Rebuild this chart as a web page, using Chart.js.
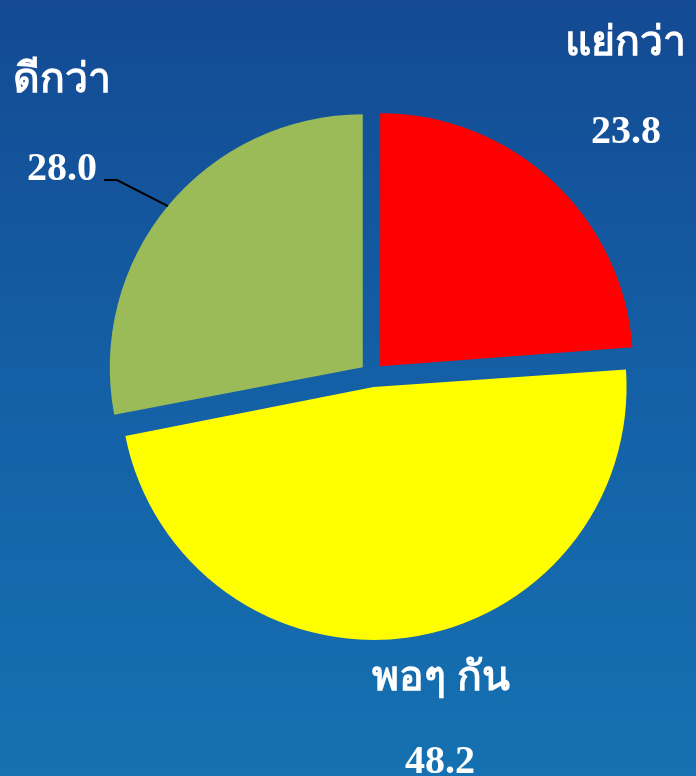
<!DOCTYPE html>
<html>
<head>
<meta charset="utf-8">
<script src="https://cdn.jsdelivr.net/npm/chart.js@4"></script>
<style>
  html, body { margin: 0; padding: 0; }
  body {
    width: 696px; height: 776px; overflow: hidden;
    background: linear-gradient(to bottom, #134a93 0%, #1460a6 50%, #1571b1 100%);
  }
  #wrap { position: relative; width: 696px; height: 776px; }
</style>
</head>
<body>
<div id="wrap"><canvas id="grafico"></canvas></div>
<script>
const categorias = ["แย่กว่า", "พอๆ กัน", "ดีกว่า"];
const valores = [23.8, 48.2, 28.0];
const colores = ["#ff0000", "#ffff00", "#9bbb59"];

// label placement, one entry per category
const posEtiqueta = [
  {x: 625, y: 55, vx: 626, vy: 143},
  {x: 441, y: 690, vx: 440, vy: 773},
  {x: 62, y: 92, vx: 62, vy: 180}
];

// Chart.js grows wide exploded slices by offset/4 * (1 - sin(angle)); undo it
// so every slice keeps the same radius
const mismoRadio = {
  id: "mismoRadio",
  beforeDatasetsDraw(chart) {
    const meta = chart.getDatasetMeta(0);
    const base = meta.controller.outerRadius;
    meta.data.forEach(arc => {
      const circ = arc.endAngle - arc.startAngle;
      const fix = 1 - Math.sin(Math.min(Math.PI, circ));
      arc.outerRadius = base - (arc.options.offset / 4) * fix;
    });
  }
};

const etiquetas = {
  id: "etiquetas",
  afterDatasetsDraw(chart) {
    const ctx = chart.ctx;
    const meta = chart.getDatasetMeta(0);
    ctx.save();
    // leader line for the green slice (arc draws its offset / 4)
    const arc = meta.data[2];
    const mid = (arc.startAngle + arc.endAngle) / 2;
    const off = arc.options.offset / 4;
    const ex = arc.x + Math.cos(mid) * (off + arc.outerRadius);
    const ey = arc.y + Math.sin(mid) * (off + arc.outerRadius);
    ctx.strokeStyle = "#000";
    ctx.lineWidth = 2;
    ctx.beginPath();
    ctx.moveTo(104, 180);
    ctx.lineTo(117, 180);
    ctx.lineTo(ex, ey);
    ctx.stroke();

    ctx.fillStyle = "#ffffff";
    ctx.textAlign = "center";
    ctx.textBaseline = "alphabetic";
    categorias.forEach((c, i) => {
      const p = posEtiqueta[i];
      ctx.font = "bold 41px 'Liberation Serif', 'DejaVu Serif', serif";
      ctx.fillText(c, p.x, p.y);
      ctx.font = "bold 40px 'Liberation Serif', serif";
      ctx.fillText(valores[i].toFixed(1), p.vx, p.vy);
    });
    ctx.restore();
  }
};

const config = {
  type: "pie",
  data: {
    labels: categorias,
    datasets: [{
      data: valores,
      backgroundColor: colores,
      borderWidth: 0,
      offset: 48,
      radius: 253
    }]
  },
  options: {
    responsive: true,
    maintainAspectRatio: false,
    animation: false,
    layout: { padding: { left: 48, right: 0, top: 0, bottom: 26 } },
    plugins: {
      legend: { display: false },
      tooltip: { enabled: false }
    }
  },
  plugins: [mismoRadio, etiquetas]
};
new Chart(document.getElementById("grafico"), config);
</script>
</body>
</html>
